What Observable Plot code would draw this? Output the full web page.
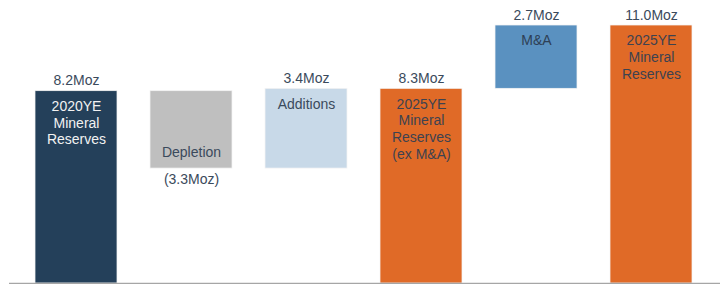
<!DOCTYPE html>
<html>
<head>
<meta charset="utf-8">
<script src="https://cdn.jsdelivr.net/npm/d3@7"></script>
<script src="https://cdn.jsdelivr.net/npm/@observablehq/plot@0.6"></script>
<style>
  html, body { margin: 0; padding: 0; background: #fff; }
  #chart { width: 720px; height: 284px; }
</style>
</head>
<body>
<div id="chart"></div>
<script>
const categories = ["2020YE", "Depletion", "Additions", "2025YE ex M&A", "M&A", "2025YE"];
const values = [8.2, -3.3, 3.4, 8.3, 2.7, 11.0];
const kinds = ["total", "delta", "delta", "total", "delta", "total"];
const valueLabels = ["8.2Moz", "(3.3Moz)", "3.4Moz", "8.3Moz", "2.7Moz", "11.0Moz"];
const barLabels = [
  "2020YE\nMineral\nReserves",
  "Depletion",
  "Additions",
  "2025YE\nMineral\nReserves\n(ex M&A)",
  "M&A",
  "2025YE\nMineral\nReserves"
];
const fills = ["#24405A", "#BFBFBF", "#C8D9E8", "#E06A27", "#5A91C0", "#E06A27"];
const textColors = ["#F2F2F2", "#3B4A5C", "#3B4A5C", "#3D4250", "#2E4055", "#3D4250"];

let running = 0;
const data = categories.map((c, i) => {
  let lo, hi;
  if (kinds[i] === "total") { lo = 0; hi = values[i]; running = values[i]; }
  else { const s = running; running = s + values[i]; lo = Math.min(s, running); hi = Math.max(s, running); }
  return { cat: c, lo, hi, value: values[i], vlabel: valueLabels[i], blabel: barLabels[i], fill: fills[i], tcolor: textColors[i] };
});
const pos = data.filter(d => d.value >= 0);
const neg = data.filter(d => d.value < 0);

const chart = Plot.plot({
  width: 720,
  height: 284,
  marginLeft: 16.6,
  marginRight: 10.4,
  marginTop: 25,
  marginBottom: 1,
  style: { fontFamily: "'Liberation Sans', Arial, sans-serif", fontSize: "14px", background: "#fff" },
  x: { domain: categories, axis: null, paddingInner: 0.29, paddingOuter: 0.145 },
  y: { domain: [0, 11], axis: null },
  marks: [
    Plot.barY(data, { x: "cat", y1: "lo", y2: "hi", fill: d => d.fill, stroke: "#F4F4F4", strokeWidth: 0.75 }),
    Plot.ruleY([0], { stroke: "#A6A6A6", strokeWidth: 1.5, insetLeft: -7.6, insetRight: -10.4 }),
    Plot.text(pos, { x: "cat", y: "hi", text: "vlabel", lineAnchor: "bottom", dy: -6, fill: "#3B4A5C", fontSize: 14 }),
    Plot.text(neg, { x: "cat", y: "lo", text: "vlabel", lineAnchor: "top", dy: 5, fill: "#3B4A5C", fontSize: 14 }),
    Plot.text(pos, { x: "cat", y: "hi", text: "blabel", lineAnchor: "top", dy: 8, lineHeight: 1.19, fill: d => d.tcolor, fontSize: 14 }),
    Plot.text(neg, { x: "cat", y: "lo", text: "blabel", lineAnchor: "bottom", dy: -12, fill: d => d.tcolor, fontSize: 14 })
  ]
});
document.getElementById("chart").appendChild(chart);
</script>
</body>
</html>
